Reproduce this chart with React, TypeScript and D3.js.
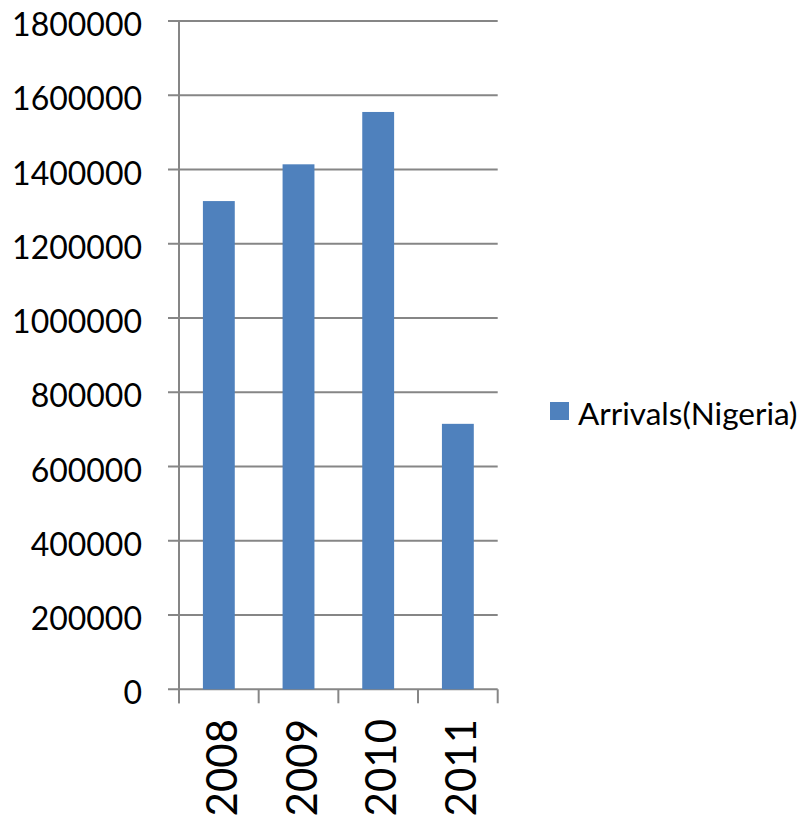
import React from "react";
import * as d3 from "d3";

const categories: string[] = ["2008", "2009", "2010", "2011"];
const arrivals: number[] = [1315000, 1414000, 1555000, 715000];
const yTicks: number[] = [0, 200000, 400000, 600000, 800000, 1000000, 1200000, 1400000, 1600000, 1800000];
const seriesName = "Arrivals(Nigeria)";

const W = 809;
const H = 820;
const plotLeft = 179;
const plotRight = 497.7;
const plotTop = 21;
const plotBottom = 689.3;
const barColor = "#4F81BD";
const gridColor = "#868686";
const font = "Lato, 'Open Sans', sans-serif";

export default function App() {
  const y = d3.scaleLinear().domain([0, 1800000]).range([plotBottom, plotTop]);
  const x = d3
    .scaleBand<string>()
    .domain(categories)
    .range([plotLeft, plotRight])
    .paddingInner(0.6)
    .paddingOuter(0.3);
  const step = x.step();
  const boundaries = d3.range(categories.length + 1).map((i) => plotLeft + i * step);

  return (
    <svg
      width={W}
      height={H}
      style={{ position: "absolute", left: 0, top: 0, background: "#fff" }}
    >
      <rect x={0} y={0} width={W} height={H} fill="#fff" />
      {yTicks.map((t) => (
        <g key={t}>
          <line
            x1={168}
            x2={plotRight}
            y1={y(t)}
            y2={y(t)}
            stroke={gridColor}
            strokeWidth={2}
          />
          <text
            x={142}
            y={y(t) + 15}
            textAnchor="end"
            fontFamily={font}
            fontSize={32}
            fill="#000"
          >
            {t}
          </text>
        </g>
      ))}
      <line x1={plotLeft} x2={plotLeft} y1={plotTop} y2={plotBottom + 14} stroke={gridColor} strokeWidth={2} />
      {boundaries.map((b, i) => (
        <line key={i} x1={b} x2={b} y1={plotBottom} y2={plotBottom + 14} stroke={gridColor} strokeWidth={2} />
      ))}
      {categories.map((c, i) => (
        <rect
          key={c}
          x={x(c)}
          y={y(arrivals[i])}
          width={x.bandwidth()}
          height={plotBottom - y(arrivals[i])}
          fill={barColor}
        />
      ))}
      {categories.map((c) => (
        <text
          key={c}
          transform={`translate(${(x(c) as number) + x.bandwidth() / 2 + 18},719) rotate(-90)`}
          textAnchor="end"
          fontFamily={font}
          fontSize={42}
          fill="#000"
        >
          {c}
        </text>
      ))}
      <rect x={550} y={402} width={19} height={18} fill={barColor} />
      <text x={578} y={425} fontFamily={font} fontSize={31.5} fill="#000">
        {seriesName}
      </text>
    </svg>
  );
}
